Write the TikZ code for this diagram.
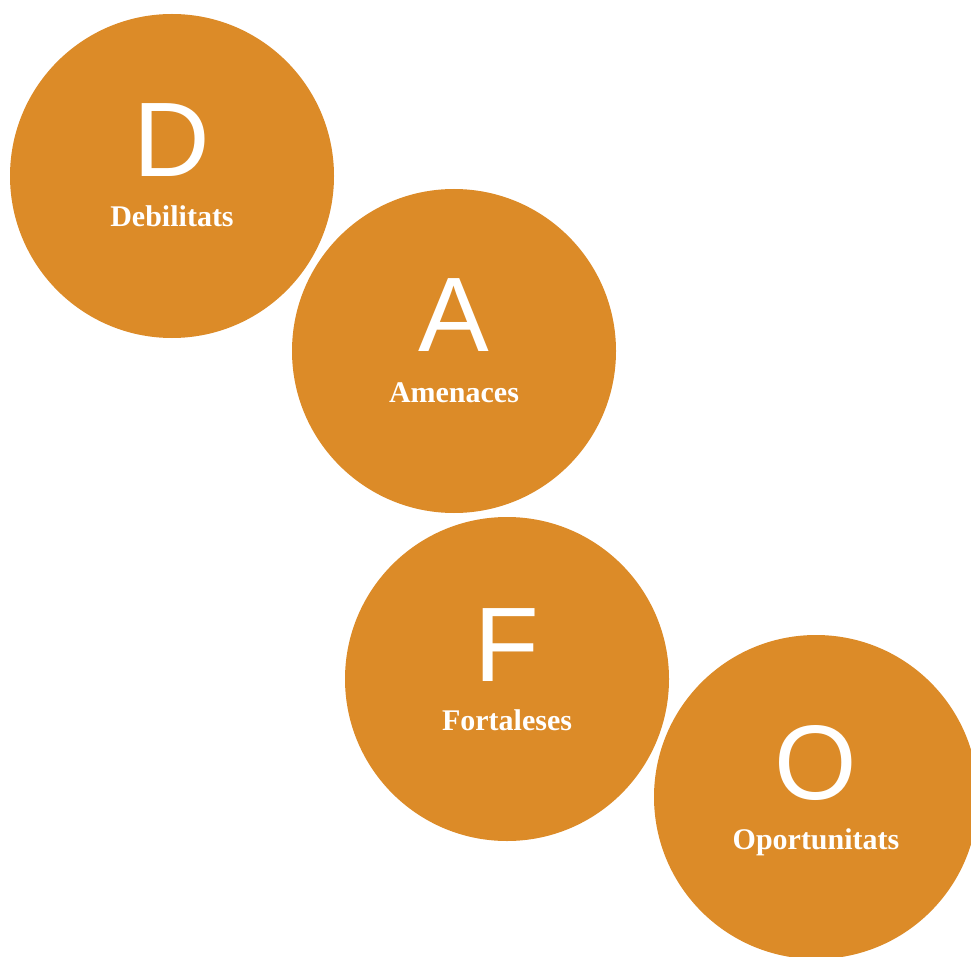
\documentclass[tikz,border=0pt]{standalone}
\usepackage{fontspec}
\setmainfont{Liberation Serif}
\newfontfamily\lettfont{Liberation Sans}
\definecolor{dafo}{RGB}{220,139,40}
\begin{document}
\begin{tikzpicture}[x=1pt,y=-1pt,
  bubble/.style={circle,fill=dafo,draw=none,minimum size=324pt,inner sep=0pt},
  bigletter/.style={text=white,font=\lettfont\fontsize{106}{106}\selectfont,anchor=base,inner sep=0pt},
  caption/.style={text=white,font=\bfseries\fontsize{30}{30}\selectfont,anchor=base,inner sep=0pt}]
\useasboundingbox (0,0) rectangle (971,957);
\begin{scope}
\clip (0,0) rectangle (971,957);
\node[bubble] (cd) at (172,176) {};
\node[bubble] (ca) at (454,351) {};
\node[bubble] (cf) at (507,679) {};
\node[bubble] (co) at (816,797) {};
\end{scope}
\node[bigletter] (ld) at ([yshift=-1pt]cd.center) {D};
\node[caption] (td) at ([yshift=-51pt]cd.center) {Debilitats};
\node[bigletter] (la) at ([yshift=-1pt]ca.center) {A};
\node[caption] (ta) at ([yshift=-51pt]ca.center) {Amenaces};
\node[bigletter] (lf) at ([yshift=-2pt]cf.center) {F};
\node[caption] (tf) at ([yshift=-51pt]cf.center) {Fortaleses};
\node[bigletter] (lo) at ([yshift=-2pt]co.center) {O};
\node[caption] (to) at ([yshift=-52pt]co.center) {Oportunitats};
\end{tikzpicture}
\end{document}
